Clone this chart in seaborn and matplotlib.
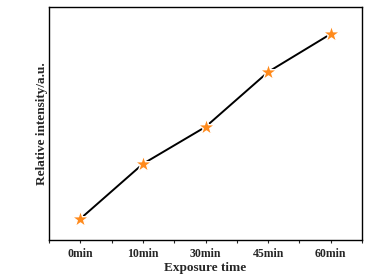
import matplotlib
matplotlib.use("Agg")
import matplotlib.pyplot as plt
import seaborn as sns
import pandas as pd
from matplotlib.ticker import MultipleLocator

times = ["0min", "10min", "30min", "45min", "60min"]
intensity = [21, 76, 113, 168, 206]

df = pd.DataFrame({"time": times, "intensity": intensity})

sns.set_style("white")
plt.rcParams['font.family'] = ['Liberation Serif', 'DejaVu Serif']

fig = plt.figure(figsize=(3.82, 2.77), dpi=100)
ax = fig.add_axes([0.128, 0.134, 0.82, 0.841])

x = list(range(len(times)))
sns.lineplot(x=x, y=df["intensity"], ax=ax, color="black", linewidth=1.4)
sns.scatterplot(x=x, y=df["intensity"], ax=ax, marker="*", s=170,
                color="#FF8A1C", edgecolor="white", linewidth=1.0, zorder=3)

ax.set_xlim(-0.5, 4.5)
ax.set_ylim(0, 233)
ax.set_xticks(x)
ax.set_xticklabels(times, fontweight="bold", fontsize=8.5)
ax.xaxis.set_minor_locator(MultipleLocator(0.5))
ax.tick_params(axis="x", which="both", direction="out", length=2.5, width=0.8,
               bottom=True, pad=3)
ax.set_yticks([])
ax.set_xlabel("Exposure time", fontweight="bold", fontsize=9.5, labelpad=2)
ax.set_ylabel("Relative intensity/a.u.", fontweight="bold", fontsize=9.5, labelpad=1)
for s in ax.spines.values():
    s.set_color("black")
    s.set_linewidth(1.0)

fig.savefig("out.png", dpi=100)
